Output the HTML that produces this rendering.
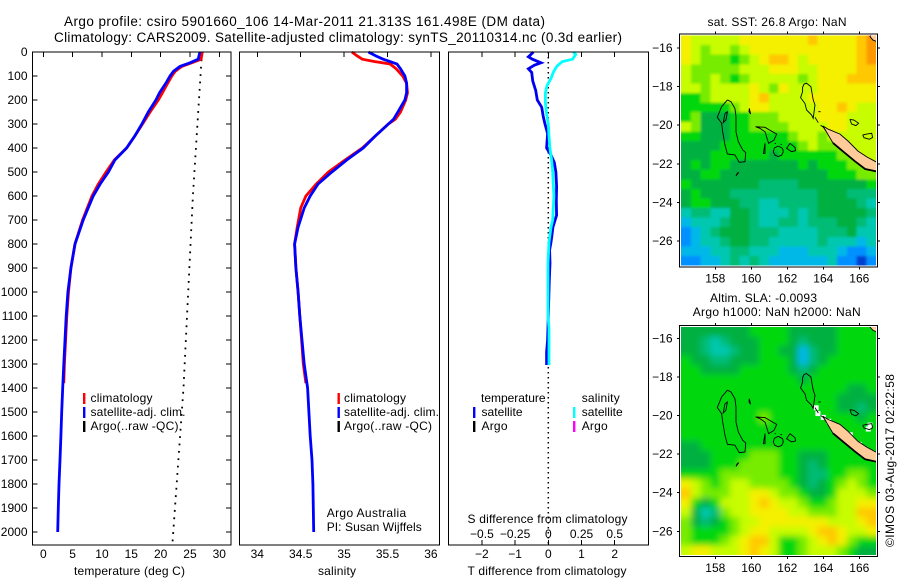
<!DOCTYPE html>
<html lang="en">
<head>
<meta charset="utf-8">
<title>Argo profile 5901660_106</title>
<style>
html,body{margin:0;padding:0;background:#fff;}
#figure{display:block;width:900px;height:580px;}
text{font-family:"Liberation Sans",Arial,sans-serif;font-size:12px;fill:#000;}
.title{font-size:13.5px;}
.frame{fill:none;stroke:#000;stroke-width:1.3;shape-rendering:crispEdges;}
</style>
</head>
<body>
<svg id="figure" xmlns="http://www.w3.org/2000/svg" width="900" height="580" viewBox="0 0 900 580">
  <defs>
    <filter id="sst-soften" x="-5%" y="-5%" width="110%" height="110%"><feGaussianBlur stdDeviation="1.2"/></filter>
    <filter id="sla-soften" x="-5%" y="-5%" width="110%" height="110%"><feGaussianBlur stdDeviation="3.2"/></filter>
  </defs>
  <rect x="0" y="0" width="900" height="580" fill="#fff"/>
  <text class="title" x="64" y="26" textLength="481" lengthAdjust="spacing">Argo profile: csiro 5901660_106 14-Mar-2011 21.313S 161.498E (DM data)</text>
  <text class="title" x="54" y="42" textLength="568" lengthAdjust="spacing">Climatology: CARS2009. Satellite-adjusted climatology: synTS_20110314.nc (0.3d earlier)</text>

  <g id="temp-panel"></g>
  <g id="sal-panel"></g>
  <g id="diff-panel"></g>
  <g id="sst-map"></g>
  <g id="sla-map"></g>

  <g>
    <rect x="83" y="393" width="2.4" height="11" fill="#f00"/>
    <rect x="83" y="407" width="2.4" height="11" fill="#00f"/>
    <rect x="83" y="421" width="2.4" height="11" fill="#000"/>
    <text x="90.5" y="402" textLength="62" lengthAdjust="spacing">climatology</text>
    <text x="90.5" y="416" textLength="95" lengthAdjust="spacing">satellite-adj. clim.</text>
    <text x="90.5" y="430" textLength="88" lengthAdjust="spacing">Argo(..raw -QC)</text>
  </g>
  <g>
    <rect x="337.5" y="393" width="2.4" height="11" fill="#f00"/>
    <rect x="337.5" y="407" width="2.4" height="11" fill="#00f"/>
    <rect x="337.5" y="421" width="2.4" height="11" fill="#000"/>
    <text x="344" y="402" textLength="62" lengthAdjust="spacing">climatology</text>
    <text x="344" y="416" textLength="95" lengthAdjust="spacing">satellite-adj. clim.</text>
    <text x="344" y="430" textLength="88" lengthAdjust="spacing">Argo(..raw -QC)</text>
    <text x="326.7" y="517" textLength="79.5" lengthAdjust="spacing">Argo Australia</text>
    <text x="326.7" y="531" textLength="95" lengthAdjust="spacing">PI: Susan Wijffels</text>
  </g>
  <g>
    <text x="481" y="402" textLength="64.5" lengthAdjust="spacing">temperature</text>
    <rect x="473" y="407" width="2.4" height="11" fill="#00f"/>
    <text x="481.5" y="416" textLength="41" lengthAdjust="spacing">satellite</text>
    <rect x="473" y="421" width="2.4" height="11" fill="#000"/>
    <text x="481.5" y="430" textLength="26" lengthAdjust="spacing">Argo</text>
    <text x="581.7" y="402" textLength="38" lengthAdjust="spacing">salinity</text>
    <rect x="573" y="407" width="2.4" height="11" fill="#0ff"/>
    <text x="581.7" y="416" textLength="41" lengthAdjust="spacing">satellite</text>
    <rect x="573" y="421" width="2.4" height="11" fill="#f0f"/>
    <text x="581.7" y="430" textLength="26" lengthAdjust="spacing">Argo</text>
  </g>

  <text x="74" y="575" textLength="111" lengthAdjust="spacing">temperature (deg C)</text>
  <text x="318" y="575" textLength="38" lengthAdjust="spacing">salinity</text>
  <text x="467.5" y="523" textLength="160" lengthAdjust="spacing">S difference from climatology</text>
  <text x="467.5" y="575" textLength="159" lengthAdjust="spacing">T difference from climatology</text>

  <text x="707.5" y="26" textLength="139" lengthAdjust="spacing">sat. SST: 26.8 Argo: NaN</text>
  <text x="710" y="302" textLength="107" lengthAdjust="spacing">Altim. SLA: -0.0093</text>
  <text x="692.7" y="316" textLength="168" lengthAdjust="spacing">Argo h1000: NaN h2000: NaN</text>
  <text transform="translate(894 547) rotate(-90)" textLength="173" lengthAdjust="spacing">©IMOS 03-Aug-2017 02:22:58</text>
</svg>

<script>
// ---------- profile data ----------
const depthTicks = [0,100,200,300,400,500,600,700,800,900,1000,1100,1200,1300,1400,1500,1600,1700,1800,1900,2000];
const tempTicks = [0,5,10,15,20,25,30];
const salTicks = [34,34.5,35,35.5,36];
const salTickLabels = ['34','34.5','35','35.5','36'];
const tDiffTicks = [-2,-1,0,1,2];
const tDiffTickLabels = ['−2','−1','0','1','2'];
const sDiffTicks = [-0.5,-0.25,0,0.25,0.5];
const sDiffTickLabels = ['−0.5','−0.25','0','0.25','0.5'];

const climTempDepth = [0,30,45,60,80,100,130,170,200,250,300,350,400,450,500,550,600,700,800,900,1000,1100,1200,1300,1380];
const climTemp = [27.1,26.9,25.3,23.6,22.5,21.9,21.2,20.3,19.6,18.2,16.9,15.6,14.2,12.1,10.7,9.4,8.3,6.7,5.4,4.7,4.3,4.0,3.8,3.6,3.5];
const satTempDepth = [0,30,45,60,80,100,130,170,200,250,300,350,400,450,500,550,600,700,800,900,1000,1100,1200,1300,1400,1500,1600,1700,1800,1900,2000];
const satTemp = [26.7,26.4,25.0,23.3,22.2,21.6,20.9,19.8,19.2,17.9,16.8,15.6,14.2,12.2,11.1,9.7,8.5,6.8,5.4,4.7,4.2,3.9,3.7,3.5,3.3,3.13,3.0,2.85,2.68,2.56,2.45];
const argoTempDepth = [0,600,1400,2050];
const argoTemp = [27.05,25.5,23.9,22.0];

const climSalDepth = [0,15,30,40,50,70,100,130,170,200,250,280,300,350,400,450,500,550,600,650,730,800,900,1000,1100,1200,1300,1380];
const climSal = [35.09,35.145,35.21,35.355,35.53,35.6,35.675,35.72,35.73,35.71,35.65,35.59,35.51,35.36,35.21,35.01,34.82,34.68,34.56,34.5,34.46,34.43,34.445,34.47,34.49,34.51,34.53,34.56];
const satSalDepth = [0,15,30,40,50,70,100,130,170,200,250,280,300,350,400,450,500,550,600,650,730,800,900,1000,1100,1200,1300,1400,1500,1600,1700,1800,1900,2000];
const satSal = [35.28,35.36,35.45,35.53,35.61,35.65,35.7,35.72,35.72,35.7,35.62,35.57,35.51,35.36,35.22,35.03,34.86,34.7,34.61,34.54,34.47,34.43,34.445,34.47,34.49,34.515,34.54,34.58,34.595,34.61,34.63,34.64,34.645,34.65];

const tDiffDepth = [0,10,20,30,45,55,70,85,120,160,200,230,270,300,340,400,430,460,500,560,620,680,730,762,792,825,880,950,1100,1200,1250,1304];
const tDiff = [-0.45,-0.52,-0.6,-0.48,-0.22,-0.42,-0.6,-0.5,-0.47,-0.38,-0.33,-0.2,-0.15,-0.1,-0.02,-0.05,0.08,0.18,0.23,0.25,0.24,0.25,0.14,0.11,0.08,0.04,0.05,0.03,0.0,-0.02,-0.05,-0.05];
const sDiffDepth = [0,10,30,40,60,85,110,140,170,210,250,300,350,400,450,500,600,700,730,792,879,1100,1150,1304];
const sDiff = [0.188,0.206,0.183,0.105,0.063,0.038,0.02,-0.01,-0.022,-0.022,-0.015,0,0.005,0.012,0.025,0.033,0.042,0.033,0.02,0.005,-0.002,-0.002,0.005,0.005];
const zeroDiffDepth = [0,2050];
const zeroDiff = [0,0];

// ---------- map data ----------
const mapLonTicks = [158,160,162,164,166];
const mapLatTicks = [-16,-18,-20,-22,-24,-26];
const levelColors = ['#0040d0','#0090ff','#00b8e8','#00c8b0','#00bc74','#00b040','#00d80c','#78ec00','#c8fc00','#f4f000','#ffc800','#ff9800'];

const sstLevels = [
[9,8,8,8,8,8,9,9,9,9,9,9,9,10,9,9,9,9,10,11],
[9,8,7,8,8,7,8,9,9,9,9,9,9,9,9,9,9,9,10,11],
[9,8,7,7,7,6,7,8,9,10,10,9,8,9,9,9,9,9,10,11],
[8,7,7,7,7,7,8,8,8,9,9,9,8,8,9,9,9,9,10,10],
[8,7,7,8,7,6,7,8,8,8,8,8,7,8,9,9,9,10,10,10],
[8,8,7,8,8,8,8,9,8,7,9,8,8,8,9,9,9,9,9,9],
[6,6,7,8,8,8,8,9,10,8,8,8,8,9,9,9,9,9,9,9],
[6,6,6,6,6,7,8,9,9,8,8,8,8,8,9,9,10,9,8,8],
[6,7,5,5,5,6,6,7,7,7,8,8,8,8,9,9,9,8,8,8],
[8,7,5,5,5,6,6,7,7,7,7,8,8,8,8,9,9,8,8,8],
[6,6,5,5,5,6,6,6,6,6,6,7,8,8,7,8,8,8,8,8],
[5,5,5,5,6,6,6,6,6,6,6,6,7,8,7,7,7,8,8,8],
[5,5,5,6,6,6,6,6,6,5,6,6,6,6,6,6,7,7,8,8],
[5,6,5,6,6,5,5,5,5,5,5,5,6,5,6,6,6,7,7,8],
[5,5,6,6,5,5,5,5,5,5,5,5,5,5,5,6,6,6,7,7],
[6,5,5,5,5,5,5,5,4,4,4,4,5,5,5,5,5,5,5,6],
[5,6,5,5,5,4,4,4,4,4,4,4,4,4,5,5,5,4,4,4],
[5,6,6,5,5,5,4,4,3,3,4,4,4,4,5,5,5,5,4,3],
[3,4,4,3,3,5,5,4,3,3,3,4,3,4,5,5,5,5,5,4],
[2,3,3,3,4,5,5,4,3,3,4,4,3,4,4,4,5,5,4,3],
[1,2,3,4,5,5,5,4,4,4,3,3,3,3,4,4,4,5,3,3],
[1,2,3,3,4,5,5,4,4,3,3,3,3,3,4,3,3,3,2,3],
[2,2,2,3,3,4,4,3,3,3,2,2,2,3,3,3,2,1,1,2],
[1,1,2,2,3,4,3,4,3,2,2,2,2,2,2,3,1,1,0,1]
];

const slaLevels = [
[5,5,5,5,5,5,5,6,6,6,6,5,5,5,5,5,6,6,6,6],
[5,5,4,3,4,5,5,5,6,6,6,5,4,5,5,5,6,6,6,6],
[5,5,4,3,3,4,5,5,6,6,5,5,2,4,5,5,6,6,6,6],
[6,5,5,4,4,5,5,5,6,6,6,5,2,4,5,6,6,6,6,6],
[6,6,5,5,5,5,6,6,6,6,6,5,4,5,6,6,6,6,6,6],
[6,6,6,6,6,6,6,6,6,6,6,6,5,6,6,6,6,6,6,6],
[6,6,6,6,6,6,6,6,6,6,6,6,6,6,6,6,6,5,5,6],
[6,6,6,6,6,6,6,6,6,6,6,6,6,6,6,6,5,5,5,5],
[6,6,6,6,6,6,6,6,6,6,6,6,6,6,6,6,5,5,4,5],
[6,6,6,6,6,6,6,6,7,6,6,6,6,6,6,6,6,6,5,6],
[6,6,6,6,6,6,6,6,6,6,6,6,6,6,6,6,6,6,6,6],
[6,6,6,6,6,6,6,6,6,6,6,6,6,6,6,6,6,6,6,6],
[5,5,6,6,6,6,6,6,6,6,6,6,6,6,6,6,6,6,6,6],
[5,5,5,6,6,6,6,7,7,7,6,6,5,5,5,6,6,6,6,6],
[5,5,5,6,6,6,7,7,7,7,6,6,5,4,5,6,6,6,6,6],
[6,6,6,6,7,7,7,7,7,7,6,6,5,4,4,6,6,7,7,6],
[9,8,7,6,7,8,8,7,7,7,7,6,5,4,5,6,7,8,7,6],
[10,8,7,7,7,8,8,9,9,8,7,7,6,5,5,6,8,8,8,7],
[9,6,5,6,8,8,8,9,10,9,8,8,7,6,6,7,8,8,9,9],
[8,5,3,4,7,8,8,9,9,9,9,8,8,7,7,7,8,8,10,10],
[7,5,4,5,6,7,8,8,9,9,9,9,9,9,9,8,8,8,9,10],
[7,6,6,6,6,7,8,9,9,8,8,8,8,9,10,10,9,8,8,9],
[7,6,6,6,7,8,9,10,10,8,6,6,7,8,9,10,9,7,6,6],
[8,9,9,8,8,8,9,10,9,8,6,6,7,8,8,8,7,6,5,5]
];

const slaMissingLon = [163.6,163.7,164.0,164.3,165.0,165.5,166.0,166.5,166.6];
const slaMissingLat = [-19.6,-19.9,-20.1,-20.3,-20.9,-21.0,-21.5,-20.7,-20.5];

const coastOutlines = [
[[158.67,-18.69],[158.87,-18.78],[159.09,-19.13],[159.15,-19.56],[159.15,-20.34],[159.28,-20.85],[159.52,-21.28],[159.69,-21.42],[159.65,-21.89],[159.33,-21.92],[159.09,-21.54],[158.67,-21.49],[158.54,-21.03],[158.41,-20.34],[158.35,-19.9],[158.11,-19.59],[158.35,-19.04],[158.67,-18.69]],
[[158.54,-19.39],[158.67,-19.3],[158.59,-19.73],[158.44,-19.87],[158.54,-19.39]],
[[159.89,-19.13],[159.96,-19.42],[159.87,-19.3],[159.89,-19.13]],
[[159.22,-22.49],[159.3,-22.44],[159.15,-22.63],[159.22,-22.49]],
[[160.24,-20.08],[160.76,-20.11],[161.07,-20.28],[161.41,-20.46],[161.26,-20.77],[160.96,-20.94],[160.76,-20.34],[160.48,-20.16],[160.24,-20.08]],
[[160.76,-20.94],[160.67,-21.46],[160.76,-21.46],[160.76,-20.94]],
[[161.5,-21.08],[161.74,-21.2],[161.78,-21.38],[161.69,-21.55],[161.5,-21.62],[161.31,-21.55],[161.22,-21.38],[161.28,-21.18],[161.5,-21.08]],
[[161.3,-20.93],[161.36,-20.96]],
[[161.62,-20.98],[161.7,-21.0]],
[[162.15,-20.94],[162.43,-21.15],[162.46,-21.32],[162.24,-21.37],[161.96,-21.2],[162.15,-20.94]],
[[162.93,-17.87],[163.07,-17.83],[163.31,-18.0],[163.44,-18.69],[163.54,-18.95],[163.44,-19.64],[163.35,-19.47],[163.07,-19.21],[162.98,-18.87],[162.74,-18.57],[162.85,-18.26],[162.85,-18.04],[162.93,-17.87]],
[[163.72,-19.3],[163.85,-19.3]],
[[163.54,-19.59],[163.72,-19.87]],
[[163.85,-20.0],[164.0,-20.1],[164.15,-20.3]],
[[165.48,-19.7],[165.7,-19.73],[165.96,-19.9],[165.81,-20.02],[165.57,-19.94],[165.48,-19.7]],
[[166.19,-20.51],[166.41,-20.46],[166.69,-20.42],[166.74,-20.63],[166.56,-20.73],[166.26,-20.65],[166.19,-20.51]]
];
const landPolygons = [
[[163.98,-20.04],[164.26,-20.2],[164.93,-20.46],[165.37,-20.82],[165.93,-21.34],[166.43,-21.65],[166.98,-21.92],[166.98,-22.4],[166.32,-22.27],[165.76,-21.87],[165.09,-21.35],[164.54,-20.92],[163.98,-20.04]],
[[166.69,-15.29],[166.98,-15.29],[166.98,-15.67],[166.76,-15.59],[166.59,-15.41],[166.69,-15.29]]
];
const landLowerEdge = [[164.54,-20.92],[165.09,-21.35],[165.76,-21.87],[166.32,-22.27],[166.98,-22.4]];

// ---------- layout ----------
const SVGNS = 'http://www.w3.org/2000/svg';
const depthY = d => 52 + 0.24 * d;
const tempX = v => 43.3 + 5.867 * v;
const salX = v => 257.3 + 86.8 * (v - 34);
const tDiffX = v => 548.3 + 33.2 * v;
const sDiffX = v => 548.3 + 132.8 * v;

function mk(parent, tag, attrs, txt) {
  const el = document.createElementNS(SVGNS, tag);
  for (const k in attrs) el.setAttribute(k, attrs[k]);
  if (txt !== undefined) el.textContent = txt;
  parent.appendChild(el);
  return el;
}
function profilePath(xs, ds, xFn) {
  return xs.map((v, i) => (i ? 'L' : 'M') + xFn(v).toFixed(1) + ' ' + depthY(ds[i]).toFixed(1)).join('');
}
function drawBox(g, x0, y0, x1, y1) {
  const box = mk(g, 'rect', {x:x0, y:y0, width:x1-x0, height:y1-y0, class:'frame'});
  
  
}
function drawTopTicks(g, ticks, xFn, top, bottom, withBottom) {
  ticks.forEach(t => {
    const a = mk(g, 'line', {x1:xFn(t), x2:xFn(t), y1:top, y2:top+5, stroke:'#000', 'shape-rendering':'crispEdges'});
    
    
    if (withBottom) {
      const b = mk(g, 'line', {x1:xFn(t), x2:xFn(t), y1:bottom, y2:bottom-5, stroke:'#000', 'shape-rendering':'crispEdges'});
      
      
    }
  });
}
function drawXLabels(g, ticks, labels, xFn, y) {
  ticks.forEach((t, i) => {
    const l = mk(g, 'text', {x:xFn(t), y:y, 'text-anchor':'middle'}, labels[i]);
    
    
  });
}
function drawLine(g, xs, ds, xFn, color, width, name) {
  const p = mk(g, 'path', {d:profilePath(xs, ds, xFn), fill:'none', stroke:color, 'stroke-width':width});
  
  
}
function drawDotted(g, xs, ds, xFn, width, dash, name) {
  const p = mk(g, 'path', {d:profilePath(xs, ds, xFn), fill:'none', stroke:'#000', 'stroke-width':width, 'stroke-dasharray':dash});
  
  
}

// temperature panel
const tempG = document.getElementById('temp-panel');
drawDotted(tempG, argoTemp, argoTempDepth, tempX, 1.8, '1.8 5.6', 'argo-temperature-line');
drawLine(tempG, climTemp, climTempDepth, tempX, '#f00', 2.8, 'climatology-temperature-line');
drawLine(tempG, satTemp, satTempDepth, tempX, '#00f', 2.8, 'satellite-temperature-line');
drawBox(tempG, 32.5, 52, 231, 545);
drawTopTicks(tempG, tempTicks, tempX, 52, 545, false);
drawXLabels(tempG, tempTicks, tempTicks.map(String), tempX, 558);
depthTicks.forEach(d => {
  const l = mk(tempG, 'line', {x1:32.5, x2:37.5, y1:depthY(d), y2:depthY(d), stroke:'#000', 'shape-rendering':'crispEdges'});
  
  
  const r = mk(tempG, 'line', {x1:226, x2:231, y1:depthY(d), y2:depthY(d), stroke:'#000', 'shape-rendering':'crispEdges'});
  
  
  const t = mk(tempG, 'text', {x:27.5, y:depthY(d)+4, 'text-anchor':'end'}, String(d));
  
  
});

// salinity panel
const salG = document.getElementById('sal-panel');
drawLine(salG, climSal, climSalDepth, salX, '#f00', 2.8, 'climatology-salinity-line');
drawLine(salG, satSal, satSalDepth, salX, '#00f', 2.8, 'satellite-salinity-line');
drawBox(salG, 239.5, 52, 439.5, 545);
drawTopTicks(salG, salTicks, salX, 52, 545, false);
drawXLabels(salG, salTicks, salTickLabels, salX, 558);

// difference panel
const diffG = document.getElementById('diff-panel');
drawDotted(diffG, zeroDiff, zeroDiffDepth, tDiffX, 1.5, '1.5 3.5', 'zero-difference-line');
drawLine(diffG, tDiff, tDiffDepth, tDiffX, '#0000f0', 2.8, 'temperature-difference-line');
drawLine(diffG, sDiff, sDiffDepth, sDiffX, '#0ff', 2.8, 'salinity-difference-line');
drawBox(diffG, 448.5, 52, 648.5, 545);
drawTopTicks(diffG, tDiffTicks, tDiffX, 52, 545, true);
drawXLabels(diffG, tDiffTicks, tDiffTickLabels, tDiffX, 558);
drawXLabels(diffG, sDiffTicks, sDiffTickLabels, sDiffX, 538);

// maps
const LON_PX = 18, LAT_PX = 19.3;
const lonX = lon => 715.3 + (lon - 158) * LON_PX;
function drawMap(g, levels, box, lat16Y, prefix, softenId, missingLon, missingLat) {
  const latY = lat => lat16Y + (-16 - lat) * LAT_PX;
  const rows = levels.length, cols = levels[0].length;
  const cw = (box.x1 - box.x0) / cols, ch = (box.y1 - box.y0) / rows;
  const clipId = prefix + '-clip';
  const defs = mk(g, 'clipPath', {id:clipId});
  mk(defs, 'rect', {x:box.x0, y:box.y0, width:box.x1-box.x0, height:box.y1-box.y0});
  const clipG = mk(g, 'g', {'clip-path':'url(#'+clipId+')'});
  
  
  const cellG = mk(clipG, 'g', {filter:'url(#'+softenId+')'});
  
  
  const bleed = 16;
  levels.forEach((row, r) => row.forEach((v, c) => {
    // outer cells extend past the frame so softening does not fade at the edge
    const xa = box.x0 + c*cw - (c === 0 ? bleed : 0);
    const xb = box.x0 + (c+1)*cw + (c === cols-1 ? bleed : 0.4);
    const ya = box.y0 + r*ch - (r === 0 ? bleed : 0);
    const yb = box.y0 + (r+1)*ch + (r === rows-1 ? bleed : 0.4);
    const cell = mk(cellG, 'rect', {x:xa, y:ya, width:xb-xa, height:yb-ya, fill:levelColors[v], 'shape-rendering':'crispEdges'});
    
    
  }));
  const geo = mk(g, 'g', {'clip-path':'url(#'+clipId+')'});
  
  
  const toPts = pts => pts.map(p => lonX(p[0]).toFixed(1)+','+latY(p[1]).toFixed(1)).join(' ');
  if (missingLon) missingLon.forEach((lon, i) => {
    const w = mk(geo, 'rect', {x:lonX(lon)-2.5, y:latY(missingLat[i])-2.5, width:5, height:5, fill:'#fff'});
    
    
  });
  landPolygons.forEach(poly => {
    const land = mk(geo, 'polygon', {points:toPts(poly), fill:'#ffcc99', stroke:'#000', 'stroke-width':0.9});
    
    
  });
  const edge = mk(geo, 'polyline', {points:toPts(landLowerEdge), fill:'none', stroke:'#000', 'stroke-width':1.8});
  
  
  coastOutlines.forEach(poly => {
    const c = mk(geo, 'polyline', {points:toPts(poly), fill:'none', stroke:'#000', 'stroke-width':0.9});
    
    
  });
  const fr = mk(g, 'rect', {x:box.x0-1.5, y:box.y0-1.5, width:box.x1-box.x0+3, height:box.y1-box.y0+3, class:'frame'});
  
  
  mapLonTicks.forEach(lon => {
    const x = lonX(lon);
    const a = mk(g, 'line', {x1:x, x2:x, y1:box.y0-1.5, y2:box.y0-4, stroke:'#000', 'shape-rendering':'crispEdges'});
    
    
    const b = mk(g, 'line', {x1:x, x2:x, y1:box.y1+1.5, y2:box.y1+4, stroke:'#000', 'shape-rendering':'crispEdges'});
    
    
    const t = mk(g, 'text', {x:x, y:box.y1+17, 'text-anchor':'middle'}, String(lon));
    
    
  });
  mapLatTicks.forEach(lat => {
    const y = latY(lat);
    const a = mk(g, 'line', {x1:box.x0-1.5, x2:box.x0-4, y1:y, y2:y, stroke:'#000', 'shape-rendering':'crispEdges'});
    
    
    const b = mk(g, 'line', {x1:box.x1+1.5, x2:box.x1+4, y1:y, y2:y, stroke:'#000', 'shape-rendering':'crispEdges'});
    
    
    const t = mk(g, 'text', {x:672.5, y:y+4, 'text-anchor':'end'}, '−' + Math.abs(lat));
    
    
  });
}
drawMap(document.getElementById('sst-map'), sstLevels, {x0:681, y0:35.5, x1:876, y1:265.5}, 48, 'sst', 'sst-soften');
drawMap(document.getElementById('sla-map'), slaLevels, {x0:681, y0:327, x1:876, y1:555}, 338.3, 'sla', 'sla-soften', slaMissingLon, slaMissingLat);
</script>
</body>
</html>
